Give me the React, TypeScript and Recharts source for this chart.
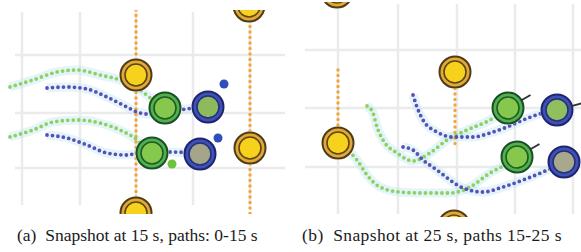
import React from "react";
import {
  ComposedChart,
  Line,
  Scatter,
  XAxis,
  YAxis,
  ReferenceLine,
} from "recharts";

type Pt = { x: number; y: number };
type Agent = { x: number; y: number; fill?: string; heading?: number };

// ---- panel (a): snapshot at 15 s ----
const gridXA = [22, 80, 136, 193, 250];
const gridYA = [55, 113, 168];

const railsA: Pt[][] = [
  [{ x: 136, y: 10 }, { x: 136, y: 214 }],
  [{ x: 250, y: 10 }, { x: 250, y: 214 }],
];
const greenPathsA: Pt[][] = [
  [
    { x: 10, y: 87 }, { x: 33, y: 80 }, { x: 57, y: 72 }, { x: 77, y: 70 },
    { x: 100, y: 75 }, { x: 120, y: 80 }, { x: 140, y: 90 }, { x: 153, y: 100 },
    { x: 165, y: 108 },
  ],
  [
    { x: 10, y: 137 }, { x: 33, y: 130 }, { x: 53, y: 122 }, { x: 77, y: 120 },
    { x: 100, y: 123 }, { x: 120, y: 130 }, { x: 137, y: 140 }, { x: 145, y: 148 },
    { x: 152, y: 153 },
  ],
];
const bluePathsA: Pt[][] = [
  [
    { x: 47, y: 88 }, { x: 67, y: 87 }, { x: 87, y: 89 }, { x: 107, y: 97 },
    { x: 127, y: 107 }, { x: 140, y: 113 }, { x: 160, y: 115 }, { x: 180, y: 110 },
    { x: 208, y: 107 },
  ],
  [
    { x: 47, y: 135 }, { x: 67, y: 138 }, { x: 87, y: 145 }, { x: 107, y: 153 },
    { x: 127, y: 155 }, { x: 143, y: 152 }, { x: 173, y: 152 }, { x: 200, y: 154 },
  ],
];
const yellowA: Agent[] = [
  { x: 136, y: 75 }, { x: 250, y: 148 }, { x: 249, y: 6 }, { x: 136, y: 213 },
];
const greenA: Agent[] = [{ x: 165, y: 108 }, { x: 152, y: 153 }];
const blueA: Agent[] = [
  { x: 208, y: 107, fill: "#8cba5c" },
  { x: 200, y: 154, fill: "#a5a58a" },
];
const blueDotsA: Pt[] = [{ x: 224, y: 84 }, { x: 218, y: 138 }];
const greenDotsA: Pt[] = [{ x: 172, y: 164 }];

// ---- panel (b): snapshot at 25 s ----
const gridXB = [338, 398, 457, 515, 573];
const gridYB = [50, 108, 167];

const railsB: Pt[][] = [
  [{ x: 338, y: 70 }, { x: 338, y: 143 }],
  [{ x: 455, y: 72 }, { x: 455, y: 147 }],
];
const greenPathsB: Pt[][] = [
  [
    { x: 367, y: 106 }, { x: 373, y: 113 }, { x: 377, y: 127 }, { x: 383, y: 140 },
    { x: 397, y: 153 }, { x: 413, y: 161 }, { x: 430, y: 153 }, { x: 447, y: 140 },
    { x: 467, y: 130 }, { x: 490, y: 120 }, { x: 508, y: 108 },
  ],
  [
    { x: 345, y: 148 }, { x: 357, y: 160 }, { x: 367, y: 175 }, { x: 380, y: 187 },
    { x: 400, y: 192 }, { x: 423, y: 193 }, { x: 450, y: 193 }, { x: 470, y: 187 },
    { x: 490, y: 173 }, { x: 503, y: 166 }, { x: 517, y: 157 },
  ],
];
const bluePathsB: Pt[][] = [
  [
    { x: 413, y: 95 }, { x: 417, y: 107 }, { x: 423, y: 120 }, { x: 437, y: 132 },
    { x: 453, y: 137 }, { x: 473, y: 137 }, { x: 490, y: 133 }, { x: 507, y: 127 },
    { x: 523, y: 120 }, { x: 543, y: 113 }, { x: 557, y: 110 },
  ],
  [
    { x: 403, y: 147 }, { x: 413, y: 150 }, { x: 423, y: 160 }, { x: 437, y: 170 },
    { x: 450, y: 180 }, { x: 463, y: 188 }, { x: 483, y: 192 }, { x: 503, y: 187 },
    { x: 523, y: 180 }, { x: 543, y: 172 }, { x: 564, y: 162 },
  ],
];
const yellowB: Agent[] = [
  { x: 338, y: 143 }, { x: 455, y: 72 }, { x: 337, y: -8 }, { x: 454, y: 226 },
];
const greenB: Agent[] = [
  { x: 508, y: 108, heading: -30 },
  { x: 517, y: 157, heading: -30 },
];
const blueB: Agent[] = [
  { x: 557, y: 110, fill: "#8fbf5e", heading: -15 },
  { x: 564, y: 162, fill: "#a8a88c" },
];

const captionA = "(a)  Snapshot at 15 s, paths: 0-15 s";
const captionB = "(b)  Snapshot at 25 s, paths 15-25 s";

const GREEN = "#8fd064";
const BLUE = "#5a4fb8";
const ORANGE = "#f2a53a";
const GRID = "#ebebeb";

const palettes = {
  yellow: { edge: "#4d3c16", ring: "#e4a836", inner: "#5a4616", fill: "#f7d21c" },
  green: { edge: "#1c4d28", ring: "#4fb34a", inner: "#1f5a2a", fill: "#86c84b" },
  blue: { edge: "#1e2470", ring: "#3d52b4", inner: "#28307a", fill: "#a5a58a" },
};

function agentShape(kind: keyof typeof palettes) {
  const pal = palettes[kind];
  return (props: any) => {
    const { cx, cy, payload } = props;
    if (cx == null || cy == null) return <g />;
    const h = payload?.heading;
    const rad = ((h ?? 0) * Math.PI) / 180;
    return (
      <g>
        <circle cx={cx} cy={cy} r={17} fill="#fff" opacity={0.6} />
        <circle cx={cx} cy={cy} r={15.5} fill={pal.ring} stroke={pal.edge} strokeWidth={2} />
        <circle cx={cx} cy={cy} r={11} fill={payload?.fill ?? pal.fill} stroke={pal.inner} strokeWidth={1.6} />
        {h != null && (
          <line
            x1={cx + Math.cos(rad) * 15}
            y1={cy + Math.sin(rad) * 15}
            x2={cx + Math.cos(rad) * 26}
            y2={cy + Math.sin(rad) * 26}
            stroke="#333"
            strokeWidth={2}
          />
        )}
      </g>
    );
  };
}

function dotShape(color: string) {
  return (props: any) =>
    props.cx == null ? <g /> : <circle cx={props.cx} cy={props.cy} r={4.5} fill={color} />;
}

function PathLine({ data, color, k }: { data: Pt[]; color: string; k: string }) {
  return (
    <Line
      key={k}
      data={data}
      dataKey="y"
      type="monotone"
      stroke={color}
      strokeWidth={3.8}
      strokeDasharray="0 5.5"
      strokeLinecap="round"
      dot={false}
      activeDot={false}
      isAnimationActive={false}
    />
  );
}

type PanelProps = {
  left: number;
  top: number;
  width: number;
  height: number;
  xDomain: [number, number];
  yDomain: [number, number];
  gridSpanX: [number, number];
  gridSpanY: [number, number];
  gridX: number[];
  gridY: number[];
  rails: Pt[][];
  greenPaths: Pt[][];
  bluePaths: Pt[][];
  yellow: Agent[];
  green: Agent[];
  blue: Agent[];
  blueDots?: Pt[];
  greenDots?: Pt[];
};

function Panel(p: PanelProps) {
  const halo = (data: Pt[], i: number, key: string) => (
    <Line
      key={key + i}
      data={data}
      dataKey="y"
      type="monotone"
      stroke="#c4e8f2"
      strokeOpacity={0.45}
      strokeWidth={9}
      dot={false}
      activeDot={false}
      isAnimationActive={false}
    />
  );
  return (
    <div style={{ position: "absolute", left: p.left, top: p.top }}>
      <ComposedChart
        width={p.width}
        height={p.height}
        margin={{ top: 0, right: 0, bottom: 0, left: 0 }}
      >
        <XAxis dataKey="x" type="number" domain={p.xDomain} hide allowDataOverflow />
        <YAxis type="number" domain={p.yDomain} reversed hide allowDataOverflow />
        {p.gridX.map((gx) => (
          <ReferenceLine
            key={"gx" + gx}
            segment={[{ x: gx, y: p.gridSpanY[0] }, { x: gx, y: p.gridSpanY[1] }]}
            stroke={GRID}
            strokeWidth={2.5}
          />
        ))}
        {p.gridY.map((gy) => (
          <ReferenceLine
            key={"gy" + gy}
            segment={[{ x: p.gridSpanX[0], y: gy }, { x: p.gridSpanX[1], y: gy }]}
            stroke={GRID}
            strokeWidth={2.5}
          />
        ))}
        {[...p.greenPaths, ...p.bluePaths].map((d, i) => halo(d, i, "halo"))}
        {p.rails.map((d, i) => (
          <Line
            key={"rail" + i}
            data={d}
            dataKey="y"
            type="linear"
            stroke={ORANGE}
            strokeWidth={3.4}
            strokeDasharray="0 5.5"
            strokeLinecap="round"
            dot={false}
            activeDot={false}
            isAnimationActive={false}
          />
        ))}
        {p.greenPaths.map((d, i) => PathLine({ data: d, color: GREEN, k: "g" + i }))}
        {p.bluePaths.map((d, i) => PathLine({ data: d, color: BLUE, k: "b" + i }))}
        {p.greenDots && (
          <Scatter data={p.greenDots} dataKey="y" shape={dotShape("#6cc43c")} isAnimationActive={false} />
        )}
        {p.blueDots && (
          <Scatter data={p.blueDots} dataKey="y" shape={dotShape("#2f4fb8")} isAnimationActive={false} />
        )}
        <Scatter data={p.yellow} dataKey="y" shape={agentShape("yellow")} isAnimationActive={false} />
        <Scatter data={p.green} dataKey="y" shape={agentShape("green")} isAnimationActive={false} />
        <Scatter data={p.blue} dataKey="y" shape={agentShape("blue")} isAnimationActive={false} />
      </ComposedChart>
    </div>
  );
}

export default function App() {
  const caption: React.CSSProperties = {
    position: "absolute",
    top: 225,
    fontFamily:
      '"Liberation Serif", "Times New Roman", Times, Tinos, "DejaVu Serif", "Noto Serif", serif',
    fontSize: 17.5,
    color: "#1a1a1a",
    whiteSpace: "pre",
  };
  return (
    <div
      style={{
        position: "fixed",
        left: 0,
        top: 0,
        width: 581,
        height: 252,
        background: "#fff",
        overflow: "hidden",
      }}
    >
      <Panel
        left={0}
        top={10}
        width={290}
        height={204}
        xDomain={[0, 290]}
        yDomain={[10, 214]}
        gridSpanX={[15, 285]}
        gridSpanY={[12, 205]}
        gridX={gridXA}
        gridY={gridYA}
        rails={railsA}
        greenPaths={greenPathsA}
        bluePaths={bluePathsA}
        yellow={yellowA}
        green={greenA}
        blue={blueA}
        blueDots={blueDotsA}
        greenDots={greenDotsA}
      />
      <Panel
        left={290}
        top={2}
        width={291}
        height={215}
        xDomain={[290, 581]}
        yDomain={[2, 217]}
        gridSpanX={[305, 581]}
        gridSpanY={[4, 214]}
        gridX={gridXB}
        gridY={gridYB}
        rails={railsB}
        greenPaths={greenPathsB}
        bluePaths={bluePathsB}
        yellow={yellowB}
        green={greenB}
        blue={blueB}
      />
      <div style={{ ...caption, left: 17 }}>{captionA}</div>
      <div style={{ ...caption, left: 302, letterSpacing: 0.4 }}>{captionB}</div>
    </div>
  );
}
